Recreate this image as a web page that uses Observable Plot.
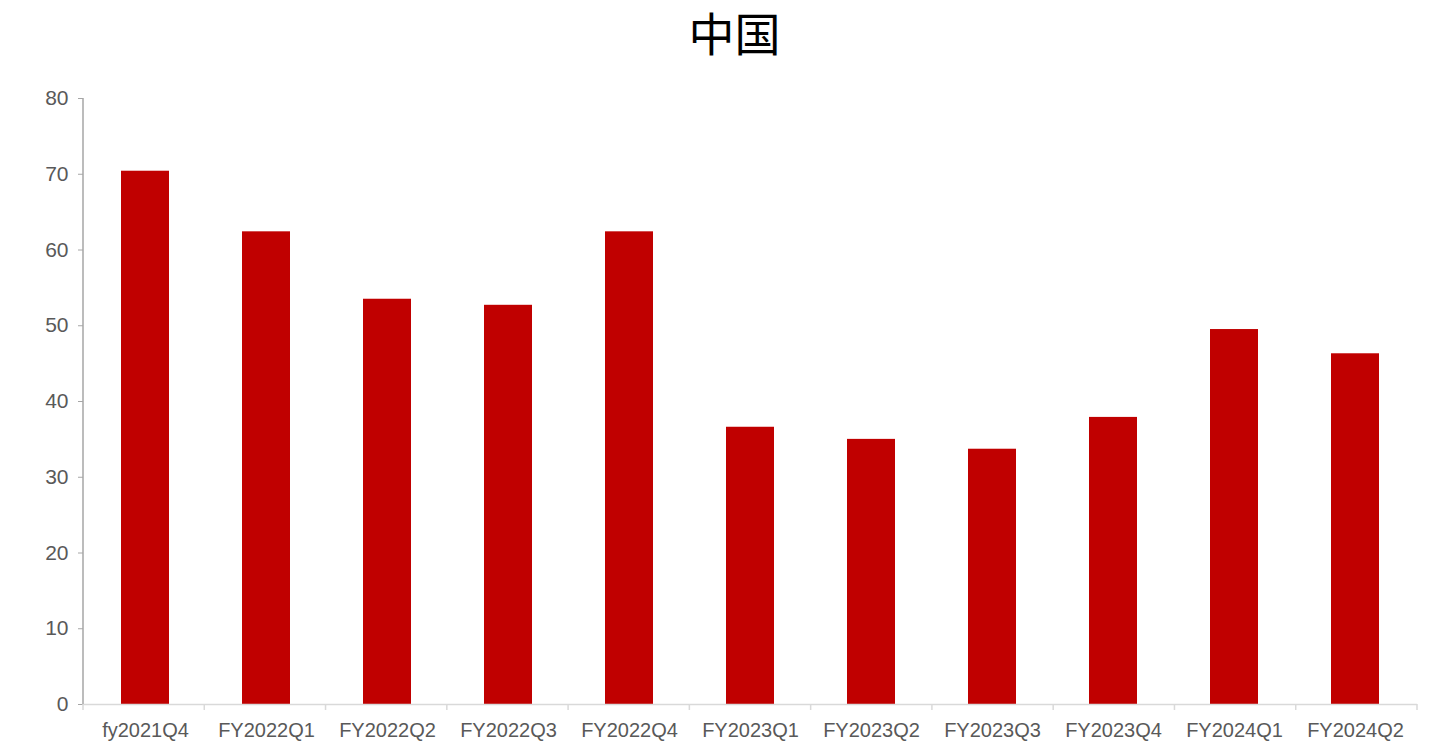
<!DOCTYPE html>
<html>
<head>
<meta charset="utf-8">
<script src="https://cdn.jsdelivr.net/npm/d3@7"></script>
<script src="https://cdn.jsdelivr.net/npm/@observablehq/plot@0.6"></script>
<style>
  body { margin: 0; background: #fff; }
  #title { height: 70px; line-height: 62px; text-align: center; font-family: "Noto Sans CJK SC", sans-serif; font-size: 46px; color: #000; padding-left: 38px; }
  svg { display: block; }
</style>
</head>
<body>
<div id="title">中国</div>
<div id="chart"></div>
<script>
const categories = ["fy2021Q4","FY2022Q1","FY2022Q2","FY2022Q3","FY2022Q4","FY2023Q1","FY2023Q2","FY2023Q3","FY2023Q4","FY2024Q1","FY2024Q2"];
const values = [70.4, 62.4, 53.5, 52.7, 62.4, 36.6, 35.0, 33.7, 37.9, 49.5, 46.3];
const yTicks = [0, 10, 20, 30, 40, 50, 60, 70, 80];

const data = categories.map((c, i) => ({category: c, value: values[i]}));

const plot = Plot.plot({
  width: 1431,
  height: 677,
  marginTop: 28,
  marginBottom: 43,
  marginLeft: 83,
  marginRight: 14,
  style: {fontFamily: "'Liberation Sans', Arial, sans-serif", fontSize: "20px", color: "#595959", background: "#fff"},
  x: {domain: categories, paddingInner: 0.6, paddingOuter: 0.3, label: null},
  y: {domain: [0, 80], label: null},
  marks: [
    Plot.barY(data, {x: "category", y: "value", fill: "#c00000"}),
    Plot.ruleY([0], {stroke: "#d9d9d9", strokeWidth: 1.5}),
    Plot.axisY(yTicks, {tickSize: 5, tickPadding: 10, stroke: "#a6a6a6", fill: "#595959", fontSize: 21}),
    Plot.axisX({tickSize: 0, tickPadding: 18, fill: "#595959", fontSize: 20})
  ]
});

// y-axis line and band-boundary ticks from the library's scales
const xs = plot.scale("x");
const ys = plot.scale("y");
const svg = d3.select(plot);
const x0 = xs.range[0], x1 = xs.range[1];
const yTop = ys.apply(80), yBot = ys.apply(0);
const g = svg.append("g");
g.append("line").attr("x1", x0).attr("x2", x0).attr("y1", yTop).attr("y2", yBot)
  .attr("stroke", "#a6a6a6").attr("stroke-width", 1.5);
const bounds = d3.range(categories.length + 1).map(i => x0 + i * (x1 - x0) / categories.length);
g.selectAll("line.b").data(bounds).join("line").attr("class", "b")
  .attr("x1", d => d).attr("x2", d => d).attr("y1", yBot).attr("y2", yBot + 6)
  .attr("stroke", "#d9d9d9").attr("stroke-width", 1.5);
document.getElementById("chart").appendChild(plot);
</script>
</body>
</html>
